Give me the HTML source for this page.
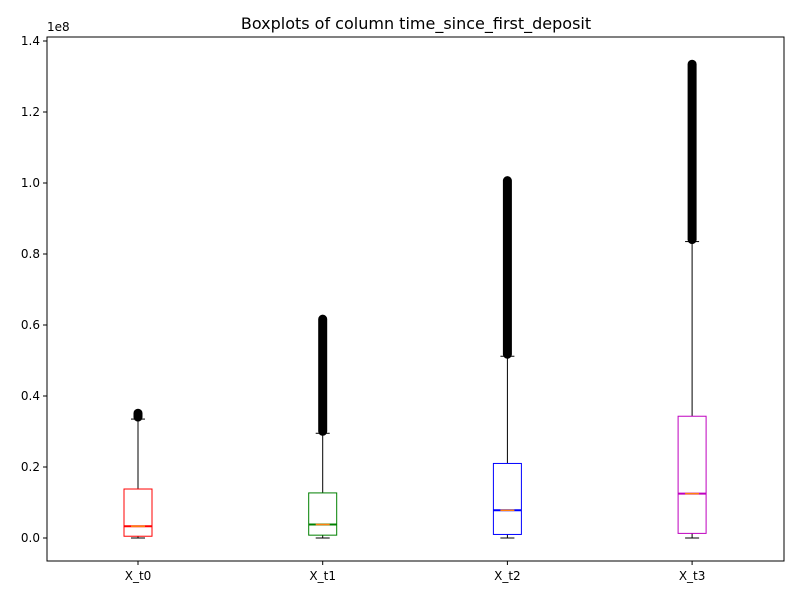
<!DOCTYPE html>
<html><head><meta charset="utf-8"><style>
body{margin:0;background:#fff;font-family:"Liberation Sans","DejaVu Sans",sans-serif}
svg text{font-family:"DejaVu Sans","Liberation Sans",sans-serif}
</style></head><body>
<svg id="c" width="800" height="600" xmlns="http://www.w3.org/2000/svg">
<rect x="0" y="0" width="800" height="600" fill="#fff"/>
<text x="416" y="29" font-size="16" text-anchor="middle">Boxplots of column time_since_first_deposit</text>
<text x="47" y="31" font-size="12">1e8</text>
<g id="plot"></g>
<rect x="47" y="37" width="737" height="524" fill="none" stroke="#000" stroke-width="1"/>
</svg>
<script>
const categories=["X_t0","X_t1","X_t2","X_t3"];
const colors=["red","green","blue","m"];
const mins=[0,0,0,0];
const q1s=[0.005,0.008,0.01,0.013];
const medians=[0.033,0.038,0.078,0.125];
const q3s=[0.138,0.127,0.21,0.343];
const whiskerHi=[0.335,0.295,0.512,0.835];
const outlierMax=[0.36,0.625,1.015,1.343];
const yTicks=[0,0.2,0.4,0.6,0.8,1.0,1.2,1.4];
const colMap={red:"#ff0000",green:"#008000",blue:"#0000ff",m:"#bf00bf"};
const NS="http://www.w3.org/2000/svg";
const g=document.getElementById('plot');
const y=v=>538-v*355;
const x=i=>138+i*184.7;
function mk(t,a){const e=document.createElementNS(NS,t);for(const k in a)e.setAttribute(k,a[k]);g.appendChild(e);return e;}
yTicks.forEach(v=>{
 const t=mk('line',{x1:43,x2:47,y1:y(v),y2:y(v),stroke:'#000'});
 
 
 const l=mk('text',{x:40,y:y(v)+4,'font-size':12,'text-anchor':'end'});l.textContent=v.toFixed(1);
 
 
});
categories.forEach((c,i)=>{
 const cx=x(i),col=colMap[colors[i]];
 const t=mk('line',{x1:cx,x2:cx,y1:561,y2:565,stroke:'#000'});
 
 
 const l=mk('text',{x:cx,y:580,'font-size':12,'text-anchor':'middle'});l.textContent=c;
 
 
 // whiskers
 const w1=mk('line',{x1:cx,x2:cx,y1:y(q3s[i]),y2:y(whiskerHi[i]),stroke:'#000'});
 
 
 const w2=mk('line',{x1:cx,x2:cx,y1:y(q1s[i]),y2:y(mins[i]),stroke:'#000'});
 
 
 [whiskerHi[i],mins[i]].forEach(v=>{
  const cap=mk('line',{x1:cx-7,x2:cx+7,y1:y(v),y2:y(v),stroke:'#000'});
  
  
 });
 // outliers
 const o=mk('line',{x1:cx,x2:cx,y1:y(whiskerHi[i])-2,y2:y(outlierMax[i])+3,stroke:'#000','stroke-width':9,'stroke-linecap':'round'});
 
 
 const oc=mk('circle',{cx:cx,cy:y(outlierMax[i])+3,r:3.5,fill:'none',stroke:'#000'});
 
 
 // box
 const b=mk('rect',{x:cx-14,y:y(q3s[i]),width:28,height:y(q1s[i])-y(q3s[i]),fill:'#fff',stroke:col});
 
 
 const m=mk('line',{x1:cx-14,x2:cx+14,y1:y(medians[i]),y2:y(medians[i]),stroke:col,'stroke-width':2});
 
 
 const m2=mk('line',{x1:cx-7,x2:cx+7,y1:y(medians[i]),y2:y(medians[i]),stroke:'#ff7f0e','stroke-width':1.5});
 
 
});
</script>
</body></html>
